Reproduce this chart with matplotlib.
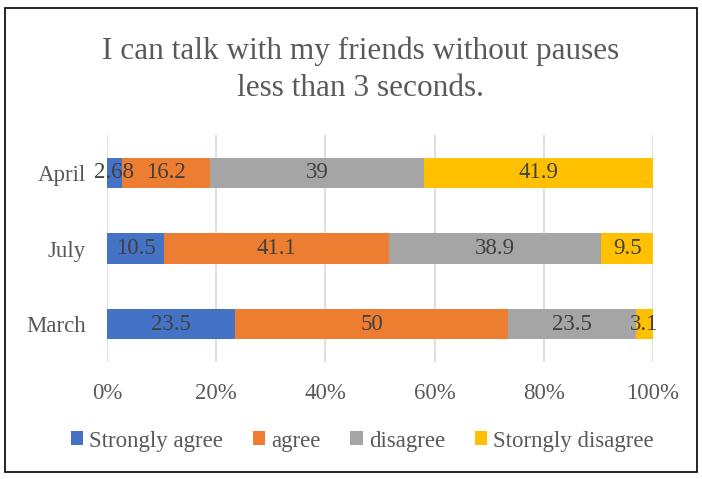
import matplotlib.pyplot as plt
from matplotlib.patches import Rectangle

plt.rcParams['font.family'] = ['Liberation Serif', 'DejaVu Serif']

months = ['March', 'July', 'April']
strongly_agree = [23.5, 10.5, 2.68]
agree = [50, 41.1, 16.2]
disagree = [23.5, 38.9, 39]
strongly_disagree = [3.1, 9.5, 41.9]
series_names = ['Strongly agree', 'agree', 'disagree', 'Storngly disagree']
colors = ['#4472C4', '#ED7D31', '#A5A5A5', '#FFC000']
txt = '#595959'

fig = plt.figure(figsize=(7.02, 4.79), dpi=100)
ax = fig.add_axes([107 / 702, 1 - 362 / 479, 546 / 702, 227 / 479])

series = [strongly_agree, agree, disagree, strongly_disagree]
left = [0.0] * len(months)
for vals, name, col in zip(series, series_names, colors):
    tot = [sum(s[i] for s in series) for i in range(len(months))]
    widths = [v / t * 100 for v, t in zip(vals, tot)]
    bars = ax.barh(months, widths, left=left, height=0.4, color=col, label=name, zorder=2)
    for b, v in zip(bars, vals):
        ax.text(b.get_x() + b.get_width() / 2, b.get_y() + b.get_height() / 2,
                f'{v:g}', ha='center', va='center', fontsize=16.5, color='#404040', zorder=3)
    left = [l + w for l, w in zip(left, widths)]

ax.set_xlim(0, 100)
ax.set_ylim(-0.5, 2.5)
ax.set_xticks(range(0, 101, 20))
ax.set_xticklabels([f'{x}%' for x in range(0, 101, 20)])
ax.grid(axis='x', color='#D9D9D9', linewidth=1.2, zorder=0)
for s in ax.spines.values():
    s.set_visible(False)
ax.tick_params(length=0, labelsize=16.5, colors=txt)
ax.tick_params(axis='x', pad=15)
ax.tick_params(axis='y', pad=15)

fig.text(0.513, 1 - 51 / 479, 'I can talk with my friends without pauses',
         ha='center', va='center', fontsize=22.5, color=txt)
fig.text(0.513, 1 - 88 / 479, 'less than 3 seconds.',
         ha='center', va='center', fontsize=22.5, color=txt)

fig.legend(loc='center', bbox_to_anchor=(0.516, 1 - 441 / 479), ncol=4, frameon=False,
           fontsize=16.5, labelcolor=txt, handlelength=0.55, handleheight=0.55,
           handletextpad=0.25, columnspacing=1.3)

fig.patches.append(Rectangle((5 / 702, 1 - 472 / 479), 692 / 702, 464 / 479,
                             transform=fig.transFigure, fill=False,
                             edgecolor='black', linewidth=1.2))

fig.savefig('out.png', dpi=100)
